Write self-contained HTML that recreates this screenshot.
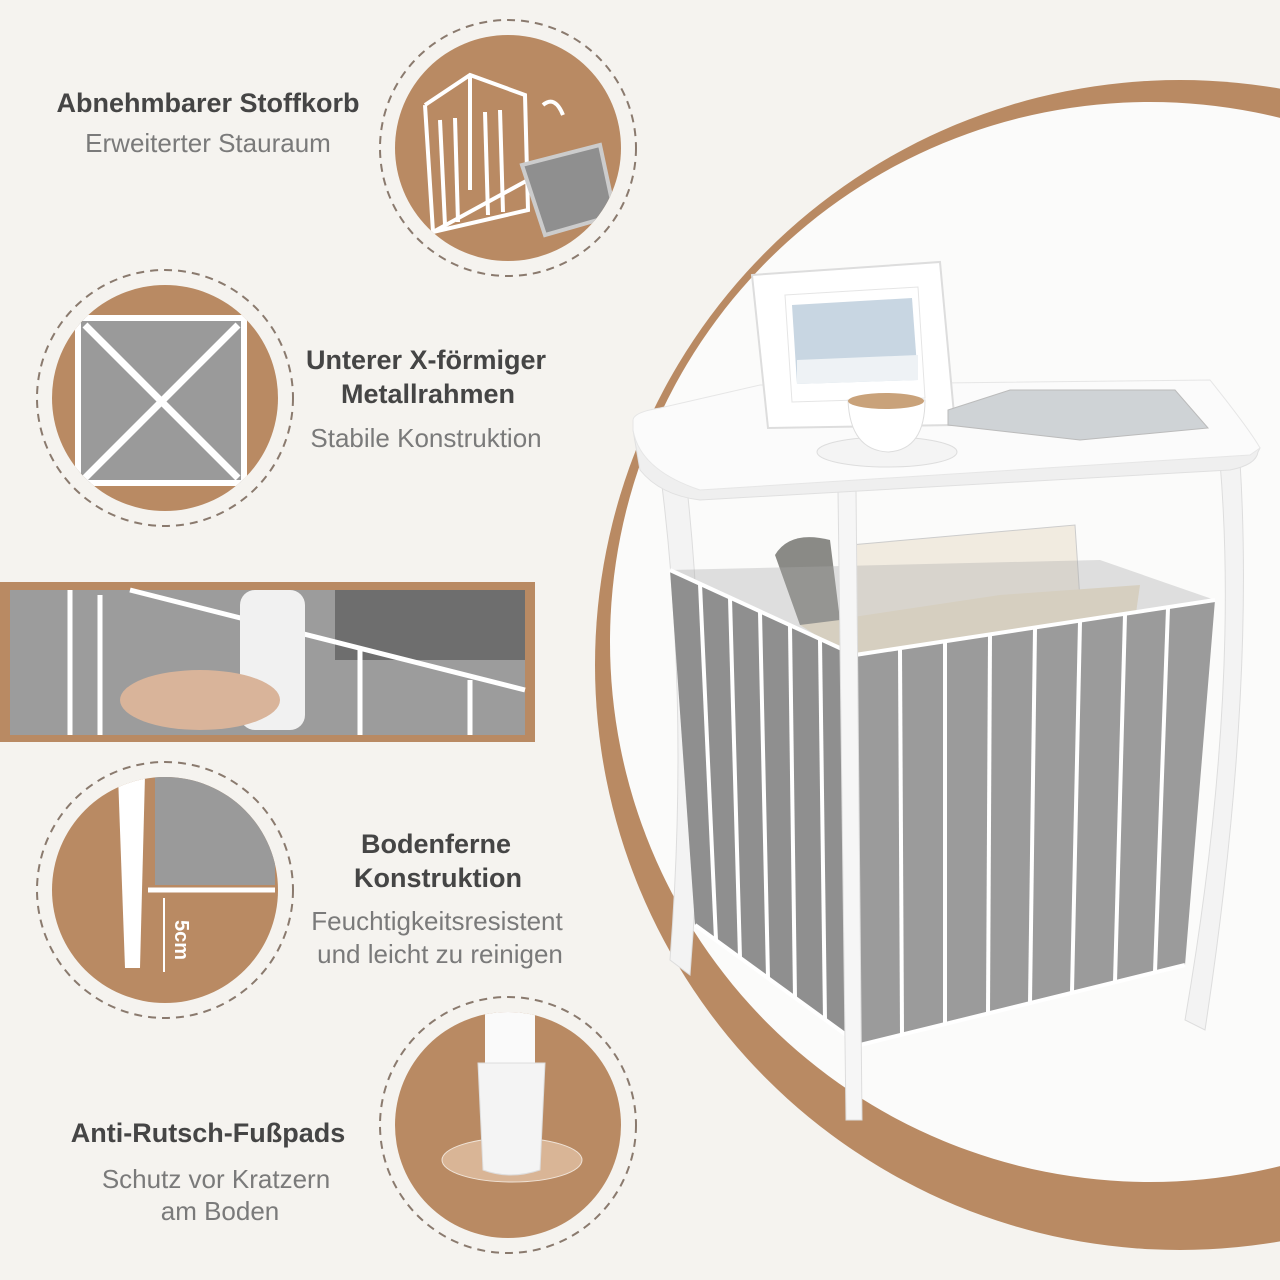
<!DOCTYPE html>
<html><head><meta charset="utf-8"><style>
html,body{margin:0;padding:0;width:1280px;height:1280px;overflow:hidden;background:#f5f3ef}
svg{position:absolute;left:0;top:0}
text{font-family:"Liberation Sans",sans-serif}
.h{font-weight:bold;fill:#454545;font-size:27px}
.s{fill:#7a7a7a;font-size:26px}
</style></head><body>
<svg width="1280" height="1280" viewBox="0 0 1280 1280">
<defs>
<clipPath id="c1"><circle cx="508" cy="148" r="113"/></clipPath>
<clipPath id="c2"><circle cx="165" cy="398" r="113"/></clipPath>
<clipPath id="c3"><circle cx="165" cy="890" r="113"/></clipPath>
<clipPath id="c4"><circle cx="508" cy="1125" r="113"/></clipPath>
</defs>
<!-- big circle -->
<circle cx="1180" cy="665" r="585" fill="#b98a63"/>
<circle cx="1150" cy="642" r="540" fill="#fbfbfa"/>
<!-- table -->
<g>
<path d="M660 470 Q690 700 670 960 L690 975 Q712 700 685 470Z" fill="#f3f3f3" stroke="#ddd"/>
<path d="M1220 462 Q1240 700 1185 1020 L1205 1030 Q1255 700 1240 462Z" fill="#f3f3f3" stroke="#ddd"/>
<polygon points="670,570 855,655 860,1045 695,925" fill="#8f8f8f"/>
<polygon points="850,545 1075,525 1080,600 855,625" fill="#f1ebe0" stroke="#ccc"/>
<polygon points="800,625 1000,595 1140,585 1135,620 855,660" fill="#efe4cc"/>
<path d="M775 555 Q790 530 830 540 L840 620 L800 625Z" fill="#8a8a86"/>
<polygon points="855,655 1215,600 1185,965 860,1045" fill="#9b9b9b"/>
<polygon points="670,570 1100,560 1215,600 855,655" fill="#a8a8a8" opacity=".35"/>
<g stroke="#fff" stroke-width="4" fill="none">
<polyline points="855,655 1215,600"/>
<polyline points="860,1045 1185,965"/>
<line x1="900" y1="650" x2="902" y2="1035"/><line x1="945" y1="643" x2="945" y2="1025"/>
<line x1="990" y1="636" x2="988" y2="1014"/><line x1="1035" y1="629" x2="1030" y2="1003"/>
<line x1="1080" y1="622" x2="1072" y2="992"/><line x1="1125" y1="615" x2="1115" y2="982"/>
<line x1="1168" y1="608" x2="1155" y2="972"/>
<polyline points="670,570 855,655"/><polyline points="695,925 860,1045"/>
<line x1="700" y1="584" x2="716" y2="940"/><line x1="730" y1="598" x2="740" y2="958"/>
<line x1="760" y1="612" x2="768" y2="978"/><line x1="790" y1="626" x2="795" y2="998"/>
<line x1="820" y1="640" x2="825" y2="1020"/>
</g>
<path d="M838 490 L846 1120 L862 1120 L856 490Z" fill="#f6f6f6" stroke="#ddd"/>
<!-- tabletop -->
<path d="M633 430 L640 470 Q660 495 700 500 L1230 470 Q1256 465 1258 452 L1260 448 Z" fill="#efefef" stroke="#e0e0e0"/>
<path d="M633 420 Q634 412 660 408 L760 385 L1210 380 Q1250 430 1260 448 L1250 455 L700 490 Q640 470 633 430Z" fill="#fbfbfb" stroke="#e6e6e6"/>
<polygon points="752,275 940,262 955,425 768,428" fill="#fff" stroke="#ddd" stroke-width="2"/>
<polygon points="785,295 918,287 925,398 792,402" fill="#fff" stroke="#e5e5e5"/>
<polygon points="792,305 912,298 918,380 797,384" fill="#c8d6e2"/>
<polygon points="797,360 918,355 918,380 797,384" fill="#eef2f5"/>
<ellipse cx="887" cy="452" rx="70" ry="15" fill="#f4f4f4" stroke="#ddd"/>
<path d="M848 400 L925 400 Q925 450 888 452 Q850 450 848 400Z" fill="#fff" stroke="#ddd"/>
<ellipse cx="886" cy="401" rx="38" ry="8" fill="#c9a27a"/>
<polygon points="948,410 1010,390 1175,390 1208,428 1080,440 948,425" fill="#cfd3d6" stroke="#bbb"/>
</g>
<!-- circle 1 -->
<circle cx="508" cy="148" r="128" fill="none" stroke="#8a7a6e" stroke-width="2" stroke-dasharray="8 6"/>
<circle cx="508" cy="148" r="113" fill="#b98a63"/>
<g clip-path="url(#c1)" stroke="#fff" stroke-width="4" fill="none">
<polyline points="425,105 470,75 525,95 528,210 433,232 425,105"/>
<line x1="470" y1="75" x2="470" y2="190"/><line x1="440" y1="120" x2="445" y2="225"/>
<line x1="455" y1="118" x2="458" y2="222"/><line x1="485" y1="112" x2="488" y2="215"/>
<line x1="500" y1="110" x2="503" y2="212"/><line x1="433" y1="232" x2="528" y2="180"/>
<polygon points="522,165 600,145 615,215 545,235" fill="#8f8f8f" stroke="#ccc"/>
</g>
<path d="M543 105 Q555 95 563 115" fill="none" stroke="#fff" stroke-width="4"/>
<!-- circle 2 -->
<circle cx="165" cy="398" r="128" fill="none" stroke="#8a7a6e" stroke-width="2" stroke-dasharray="8 6"/>
<circle cx="165" cy="398" r="113" fill="#b98a63"/>
<g clip-path="url(#c2)">
<rect x="78" y="318" width="166" height="165" fill="#9a9a9a" stroke="#fff" stroke-width="6"/>
<line x1="85" y1="325" x2="238" y2="478" stroke="#fff" stroke-width="7"/>
<line x1="238" y1="325" x2="85" y2="478" stroke="#fff" stroke-width="7"/>
</g>
<!-- band -->
<rect x="0" y="582" width="535" height="160" fill="#b98a63"/>
<rect x="10" y="590" width="515" height="145" fill="#9c9c9c"/>
<rect x="335" y="590" width="190" height="70" fill="#6e6e6e"/>
<g stroke="#fff" stroke-width="5"><line x1="130" y1="590" x2="525" y2="690"/>
<line x1="70" y1="590" x2="70" y2="735"/><line x1="100" y1="595" x2="100" y2="735"/>
<line x1="360" y1="650" x2="360" y2="735"/><line x1="470" y1="680" x2="470" y2="735"/></g>
<rect x="240" y="590" width="65" height="140" rx="15" fill="#f1f1f1"/>
<ellipse cx="200" cy="700" rx="80" ry="30" fill="#d9b49a"/>
<!-- circle 3 -->
<circle cx="165" cy="890" r="128" fill="none" stroke="#8a7a6e" stroke-width="2" stroke-dasharray="8 6"/>
<circle cx="165" cy="890" r="113" fill="#b98a63"/>
<g clip-path="url(#c3)">
<rect x="155" y="770" width="120" height="115" fill="#9a9a9a"/>
<line x1="148" y1="890" x2="275" y2="890" stroke="#fff" stroke-width="5"/>
<path d="M118 775 L125 968 L140 968 L145 775Z" fill="#fff"/>
</g>
<line x1="164" y1="898" x2="164" y2="972" stroke="#fff" stroke-width="2"/>
<text x="175" y="920" transform="rotate(90 175 920)" fill="#fff" font-size="20" font-weight="bold" font-family="Liberation Sans">5cm</text>
<!-- circle 4 -->
<circle cx="508" cy="1125" r="128" fill="none" stroke="#8a7a6e" stroke-width="2" stroke-dasharray="8 6"/>
<circle cx="508" cy="1125" r="113" fill="#b98a63"/>
<g clip-path="url(#c4)">
<ellipse cx="512" cy="1160" rx="70" ry="22" fill="#d9b596" stroke="#f0e4d8"/>
<rect x="485" y="1000" width="50" height="75" fill="#fafafa"/>
<path d="M478 1063 L545 1063 L540 1170 Q510 1180 483 1170Z" fill="#f4f4f4" stroke="#ddd"/>
</g>
<!-- texts -->
<text class="h" x="208" y="112" text-anchor="middle">Abnehmbarer Stoffkorb</text>
<text class="s" x="208" y="152" text-anchor="middle">Erweiterter Stauraum</text>
<text class="h" x="426" y="369" text-anchor="middle">Unterer X-förmiger</text>
<text class="h" x="428" y="403" text-anchor="middle">Metallrahmen</text>
<text class="s" x="426" y="447" text-anchor="middle">Stabile Konstruktion</text>
<text class="h" x="436" y="853" text-anchor="middle">Bodenferne</text>
<text class="h" x="438" y="887" text-anchor="middle">Konstruktion</text>
<text class="s" x="437" y="930" text-anchor="middle">Feuchtigkeitsresistent</text>
<text class="s" x="440" y="963" text-anchor="middle">und leicht zu reinigen</text>
<text class="h" x="208" y="1142" text-anchor="middle">Anti-Rutsch-Fußpads</text>
<text class="s" x="216" y="1188" text-anchor="middle">Schutz vor Kratzern</text>
<text class="s" x="220" y="1220" text-anchor="middle">am Boden</text>
</svg>
</body></html>
